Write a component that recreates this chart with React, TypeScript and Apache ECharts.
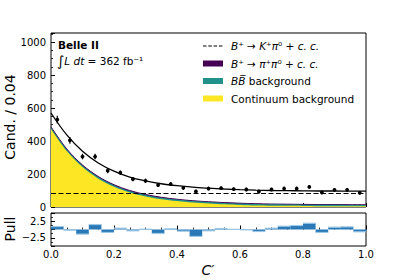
import React, { useEffect, useRef } from "react";
import * as echarts from "echarts";

// ---- data ----
const binCenters = [0.02, 0.06, 0.10, 0.14, 0.18, 0.22, 0.26, 0.30, 0.34, 0.38, 0.42, 0.46, 0.50, 0.54, 0.58, 0.62, 0.66, 0.70, 0.74, 0.78, 0.82, 0.86, 0.90, 0.94, 0.98];
const counts = [530, 404, 306, 306, 220, 208, 169, 159, 133, 139, 116, 94, 112, 114, 108, 106, 94, 106, 112, 112, 122, 88, 104, 104, 86];
const countErrors = [23, 20, 17, 17, 15, 14, 13, 13, 12, 12, 11, 10, 11, 11, 10, 10, 10, 10, 11, 11, 11, 9, 10, 10, 9];
const pulls = [0.9, -0.2, -1.4, 1.5, -0.9, 0.4, -0.4, 0.1, -1.2, 0.2, -0.5, -2.1, -0.4, 0.3, 0.05, -0.1, -0.6, 0.4, 1.0, 1.2, 1.9, -0.9, 0.7, 0.8, -0.7];

const fitX = [0, 0.05, 0.1, 0.15, 0.2, 0.25, 0.3, 0.35, 0.4, 0.45, 0.5, 0.55, 0.6, 0.65, 0.7, 0.75, 0.8, 0.85, 0.9, 0.95, 1.0];
const totalFit = [570, 437, 338, 267, 217, 181, 158, 141, 129, 120, 114, 109, 105, 102, 100, 99, 98, 97, 97, 96, 96];
const continuumFit = [473, 339, 242, 172, 123, 88, 64, 47, 36, 27, 21, 16, 12, 9, 8, 7, 6, 5, 5, 4, 4];
const bbbarFit = [10, 10, 10, 10, 9, 9, 9, 9, 9, 9, 9, 9, 9, 9, 8, 8, 8, 8, 8, 8, 8];
const pipi0Fit = [3, 3, 3, 3, 3, 3, 3, 3, 2, 2, 2, 2, 2, 2, 2, 2, 2, 2, 2, 2, 2];
const signalX = [0, 1];
const signalFit = [82, 82];

const xTicks = [0, 0.2, 0.4, 0.6, 0.8, 1.0];
const yTicksMain = [0, 200, 400, 600, 800, 1000];
const pullTickLabels = [2.5, -2.5];

const legendLabels = [
  "{i|B}⁺ → {i|K}⁺{i|π}⁰ + {i|c. c.}",
  "{i|B}⁺ → {i|π}⁺{i|π}⁰ + {i|c. c.}",
  "{i|BB̅} background",
  "Continuum background",
];

const FONT = "DejaVu Sans";
const C_YELLOW = "#fde725";
const C_TEAL = "#21918c";
const C_PURPLE = "#440154";
const BIN_HALF = 0.02;

export default function App() {
  const ref = useRef<HTMLDivElement>(null);

  useEffect(() => {
    if (!ref.current) return;
    const chart = echarts.init(ref.current, null, { renderer: "svg" });

    const tickStyle = { inside: true, length: 4, lineStyle: { color: "#000", width: 1 } };
    const minorStyle = (n: number) => ({ show: true, splitNumber: n, length: 2, lineStyle: { color: "#000", width: 0.8 } });

    const toPairs = (xs: number[], ys: number[]) => xs.map((x, i) => [x, ys[i]]);
    // cumulative stack tops (built from the component arrays)
    const stackYellow = continuumFit;
    const stackTeal = continuumFit.map((v, i) => v + bbbarFit[i]);
    const stackPurple = stackTeal.map((v, i) => v + pipi0Fit[i]);

    const areaSeries = (ys: number[], color: string, z: number, lw: number) => ({
      type: "line", xAxisIndex: 0, yAxisIndex: 0, symbol: "none",
      smooth: 0.35,
      data: toPairs(fitX, ys),
      lineStyle: { width: lw, color },
      areaStyle: { color, opacity: 1, origin: "start" },
      z,
    });

    const legendX = 203;
    const legendY0 = 46;
    const legendDy = 17.5;

    const option: any = {
      animation: false,
      textStyle: { fontFamily: FONT },
      grid: [
        { left: 51, top: 33, width: 315, height: 174, show: true, borderColor: "#000", borderWidth: 1, backgroundColor: "transparent" },
        { left: 51, top: 213, width: 315, height: 33, show: true, borderColor: "#000", borderWidth: 1, backgroundColor: "transparent" },
      ],
      xAxis: [
        {
          type: "value", gridIndex: 0, min: 0, max: 1, interval: 0.2,
          axisLine: { show: false }, axisTick: tickStyle, minorTick: minorStyle(4),
          axisLabel: { show: false }, splitLine: { show: false },
        },
        {
          type: "value", gridIndex: 1, min: 0, max: 1, interval: 0.2,
          axisLine: { show: false }, axisTick: tickStyle, minorTick: minorStyle(4),
          splitLine: { show: false },
          axisLabel: {
            fontSize: 10, color: "#000", fontFamily: FONT, margin: 3,
            formatter: (v: number) => (xTicks.some((t) => Math.abs(t - v) < 1e-6) ? v.toFixed(1) : ""),
          },
        },
      ],
      yAxis: [
        {
          type: "value", gridIndex: 0, min: 0, max: 1055, interval: 200,
          axisLine: { show: false }, axisTick: tickStyle, minorTick: minorStyle(4),
          splitLine: { show: false },
          axisLabel: {
            fontSize: 10, color: "#000", fontFamily: FONT, margin: 5, showMaxLabel: false,
            formatter: (v: number) => (yTicksMain.indexOf(v) >= 0 ? String(v) : ""),
          },
        },
        {
          type: "value", gridIndex: 1, min: -5, max: 5, interval: 2.5,
          axisLine: { show: false }, axisTick: tickStyle, minorTick: minorStyle(2),
          splitLine: { show: false },
          axisLabel: {
            fontSize: 10, color: "#000", fontFamily: FONT, margin: 5,
            formatter: (v: number) => (pullTickLabels.indexOf(v) >= 0 ? (v < 0 ? "−" + Math.abs(v).toFixed(1) : v.toFixed(1)) : ""),
          },
        },
      ],
      series: [
        areaSeries(stackPurple, C_PURPLE, 1, 1),
        areaSeries(stackTeal, C_TEAL, 2, 0),
        areaSeries(stackYellow, C_YELLOW, 3, 0),
        {
          type: "line", xAxisIndex: 0, yAxisIndex: 0, symbol: "none",
          data: toPairs(signalX, signalFit),
          lineStyle: { width: 1.2, color: "#000", type: [5, 2.5] },
          z: 4,
        },
        {
          type: "line", xAxisIndex: 0, yAxisIndex: 0, symbol: "none",
          smooth: 0.35,
          data: toPairs(fitX, totalFit),
          lineStyle: { width: 1.3, color: "#000" },
          z: 5,
        },
        {
          type: "custom", xAxisIndex: 0, yAxisIndex: 0,
          data: binCenters.map((x, i) => [x, counts[i], countErrors[i]]),
          encode: { x: 0, y: 1 },
          z: 6,
          renderItem: (params: any, api: any) => {
            const x = api.value(0), y = api.value(1), e = api.value(2);
            const c = api.coord([x, y]);
            const lo = api.coord([x, y - e]);
            const hi = api.coord([x, y + e]);
            return {
              type: "group",
              children: [
                { type: "line", shape: { x1: lo[0], y1: lo[1], x2: hi[0], y2: hi[1] }, style: { stroke: "#000", lineWidth: 1.2 } },
                { type: "circle", shape: { cx: c[0], cy: c[1], r: 1.9 }, style: { fill: "#000" } },
              ],
            };
          },
        },
        {
          type: "custom", xAxisIndex: 1, yAxisIndex: 1,
          data: binCenters.map((x, i) => [x, pulls[i]]),
          encode: { x: 0, y: 1 },
          z: 3,
          renderItem: (params: any, api: any) => {
            const x = api.value(0), v = api.value(1);
            const p0 = api.coord([x - BIN_HALF, 0]);
            const p1 = api.coord([x + BIN_HALF, v]);
            const top = Math.min(p0[1], p1[1]);
            const h = Math.abs(p1[1] - p0[1]);
            return {
              type: "group",
              children: [
                { type: "rect", shape: { x: p0[0], y: top, width: p1[0] - p0[0], height: Math.max(h, 0.5) }, style: { fill: "#2a79b6" } },
                { type: "line", shape: { x1: p0[0], y1: p1[1], x2: p1[0], y2: p1[1] }, style: { stroke: "#9cc8e6", lineWidth: 1.2 } },
              ],
            };
          },
        },
      ],
      graphic: [
        { type: "text", left: 58, top: 39, style: { text: "Belle II", font: `bold 10.5px "${FONT}"`, fill: "#000" } },
        {
          type: "text", left: 57, top: 54,
          style: {
            text: "{int|∫}{i|L dt} = 362 fb⁻¹",
            fill: "#000", fontFamily: FONT, fontSize: 10.5,
            rich: {
              int: { fontSize: 14, fontFamily: FONT, fill: "#000" },
              i: { fontStyle: "italic", fontFamily: FONT, fontSize: 10.5, fill: "#000" },
            },
          },
        },
        // legend handles
        { type: "line", shape: { x1: legendX, y1: legendY0, x2: legendX + 20, y2: legendY0 }, style: { stroke: "#000", lineWidth: 1.2, lineDash: [3.5, 1.8] } },
        { type: "rect", shape: { x: legendX, y: legendY0 + legendDy - 3, width: 20, height: 6 }, style: { fill: C_PURPLE } },
        { type: "rect", shape: { x: legendX, y: legendY0 + 2 * legendDy - 3, width: 20, height: 6 }, style: { fill: C_TEAL } },
        { type: "rect", shape: { x: legendX, y: legendY0 + 3 * legendDy - 3, width: 20, height: 6 }, style: { fill: C_YELLOW } },
        ...legendLabels.map((t, k) => ({
          type: "text",
          x: 231, y: legendY0 + k * legendDy,
          style: {
            text: t, fill: "#000", fontFamily: FONT, fontSize: 10.5, verticalAlign: "middle", align: "left",
            rich: { i: { fontStyle: "italic", fontFamily: FONT, fontSize: 10.5, fill: "#000" } },
          },
        })),
        // axis titles
        {
          type: "text", x: 10, y: 117, rotation: Math.PI / 2,
          style: { text: "Cand. / 0.04", fill: "#000", fontFamily: FONT, fontSize: 14, align: "center", verticalAlign: "middle" },
        },
        {
          type: "text", x: 10, y: 229, rotation: Math.PI / 2,
          style: { text: "Pull", fill: "#000", fontFamily: FONT, fontSize: 14, align: "center", verticalAlign: "middle" },
        },
        {
          type: "text", x: 208, y: 270,
          style: { text: "C′", fill: "#000", fontFamily: FONT, fontSize: 14, fontStyle: "italic", align: "center", verticalAlign: "middle" },
        },
      ],
    };

    chart.setOption(option);
    return () => chart.dispose();
  }, []);

  return <div ref={ref} style={{ position: "fixed", left: 0, top: 0, width: 407, height: 280, background: "#fff" }} />;
}
